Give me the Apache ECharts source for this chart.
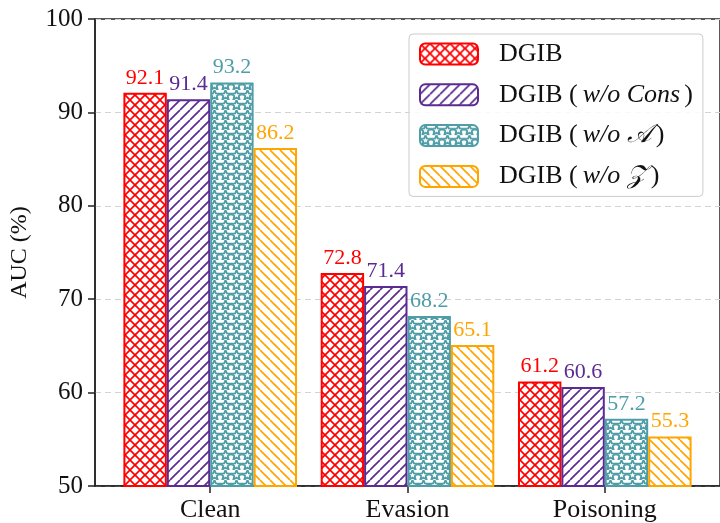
<!DOCTYPE html>
<html>
<head>
<meta charset="utf-8">
<script src="https://cdn.jsdelivr.net/npm/echarts@6/dist/echarts.min.js"></script>
<style>html,body{margin:0;padding:0;background:#fff;}#c{width:720px;height:523px;}</style>
</head>
<body>
<div id="c"></div>
<script>
// ---- data ----
const categories = ['Clean', 'Evasion', 'Poisoning'];
const seriesNames = ['DGIB', 'DGIB (w/o Cons)', 'DGIB (w/o \uD835\uDC9C)', 'DGIB (w/o \uD835\uDCB5)'];
const dgib        = [92.1, 72.8, 61.2];
const dgibNoCons  = [91.4, 71.4, 60.6];
const dgibNoA     = [93.2, 68.2, 57.2];
const dgibNoZ     = [86.2, 65.1, 55.3];
const yTicks      = [50, 60, 70, 80, 90, 100];

// ---- styling ----
const colors = ['#ff0000', '#5b2a92', '#4f9da6', '#ffa500'];
const SERIF = "'Liberation Serif', 'DejaVu Serif', serif";

function makePattern(kind, color) {
  const W = kind === 'star' ? 11 : 10;
  const H = 10;
  const c = document.createElement('canvas');
  c.width = W; c.height = H;
  const g = c.getContext('2d');
  g.fillStyle = '#fff';
  g.fillRect(0, 0, W, H);
  g.strokeStyle = color;
  g.fillStyle = color;
  g.lineWidth = 1.7;
  const P = W;
  const fwd = () => { for (let k = -1; k <= 1; k++) { g.beginPath(); g.moveTo(k * P, P); g.lineTo(k * P + P, 0); g.stroke(); } };
  const back = () => { for (let k = -1; k <= 1; k++) { g.beginPath(); g.moveTo(k * P, 0); g.lineTo(k * P + P, P); g.stroke(); } };
  if (kind === 'cross') { fwd(); back(); }
  else if (kind === 'fwd') { fwd(); }
  else if (kind === 'back') { back(); }
  else if (kind === 'star') {
    const cx = W / 2, cy = H / 2 + 0.3, ro = 5.4, ri = 2.3;
    g.beginPath();
    for (let i = 0; i < 10; i++) {
      const r = i % 2 === 0 ? ro : ri;
      const a = -Math.PI / 2 + i * Math.PI / 5;
      const x = cx + r * Math.cos(a), y = cy + r * Math.sin(a);
      if (i === 0) g.moveTo(x, y); else g.lineTo(x, y);
    }
    g.closePath();
    g.lineWidth = 1.8;
    g.stroke();
    g.fillRect(0, 3.2, 1.2, 2.2);
    g.fillRect(W - 1.2, 3.2, 1.2, 2.2);
  }
  return { image: c, repeat: 'repeat' };
}
const kinds = ['cross', 'fwd', 'star', 'back'];
const valueLists = [dgib, dgibNoCons, dgibNoA, dgibNoZ];

const series = seriesNames.map((name, si) => ({
  name: name,
  type: 'bar',
  barWidth: '22%',
  barGap: '0%',
  data: valueLists[si].map((v, ci) => [ci, v]),
  itemStyle: {
    color: makePattern(kinds[si], colors[si]),
    borderColor: colors[si],
    borderWidth: 2
  },
  label: {
    show: true,
    position: 'top',
    distance: 4,
    color: colors[si],
    fontFamily: SERIF,
    fontSize: 22,
    formatter: p => p.value[1].toFixed(1)
  },
  emphasis: { disabled: true }
}));

const chart = echarts.init(document.getElementById('c'), null, { renderer: 'canvas' });
chart.setOption({
  animation: false,
  backgroundColor: '#fff',
  grid: { left: 95, right: -1, top: 19, bottom: 37, show: true, borderColor: '#222', borderWidth: 1.5, backgroundColor: 'transparent' },
  legend: {
    orient: 'vertical',
    left: 409,
    top: 34,
    padding: [7, 10, 7, 10],
    itemWidth: 58,
    itemHeight: 21,
    itemGap: 14.8,
    backgroundColor: 'rgba(255,255,255,0.85)',
    borderColor: '#cccccc',
    borderWidth: 1,
    borderRadius: 4,
    data: seriesNames,
    formatter: function (name) {
      const m = name.match(/^DGIB \(w\/o (.*)\)$/);
      if (!m) return '{p|DGIB}';
      return '{p|DGIB (}{i|w/o ' + m[1] + '}{n|)}';
    },
    textStyle: {
      fontFamily: SERIF,
      fontSize: 26,
      lineHeight: 26,
      color: '#111',
      rich: {
        p: { fontFamily: SERIF, fontSize: 26, lineHeight: 26, color: '#111', padding: [0, 0, 0, 16] },
        n: { fontFamily: SERIF, fontSize: 26, lineHeight: 26, color: '#111' },
        i: { fontFamily: SERIF, fontSize: 26, lineHeight: 26, fontStyle: 'italic', color: '#111', padding: [0, 4, 0, 5] }
      }
    }
  },
  xAxis: {
    type: 'value',
    min: -0.584,
    max: 2.584,
    splitLine: { show: false },
    axisLine: { show: true, onZero: false, lineStyle: { color: '#222', width: 1.5 } },
    axisTick: { show: true, customValues: [0, 1, 2], length: 7, lineStyle: { color: '#222', width: 1.5 } },
    axisLabel: {
      customValues: [0, 1, 2],
      formatter: v => categories[Math.round(v)] || '',
      fontFamily: SERIF, fontSize: 26, color: '#111', margin: 11
    }
  },
  yAxis: {
    type: 'value',
    min: 50,
    max: 100,
    interval: 10,
    name: 'AUC (%)',
    nameLocation: 'middle',
    nameGap: 63,
    nameTextStyle: { fontFamily: SERIF, fontSize: 24, color: '#111' },
    axisLine: { show: true, onZero: false, lineStyle: { color: '#222', width: 1.5 } },
    axisTick: { show: true, length: 7, lineStyle: { color: '#222', width: 1.5 } },
    axisLabel: {
      fontFamily: SERIF, fontSize: 25, color: '#111', margin: 12,
      customValues: yTicks
    },
    splitLine: { show: true, lineStyle: { color: '#d3d3d3', width: 1, type: [6, 4] } }
  },
  series: series
});
</script>
</body>
</html>
